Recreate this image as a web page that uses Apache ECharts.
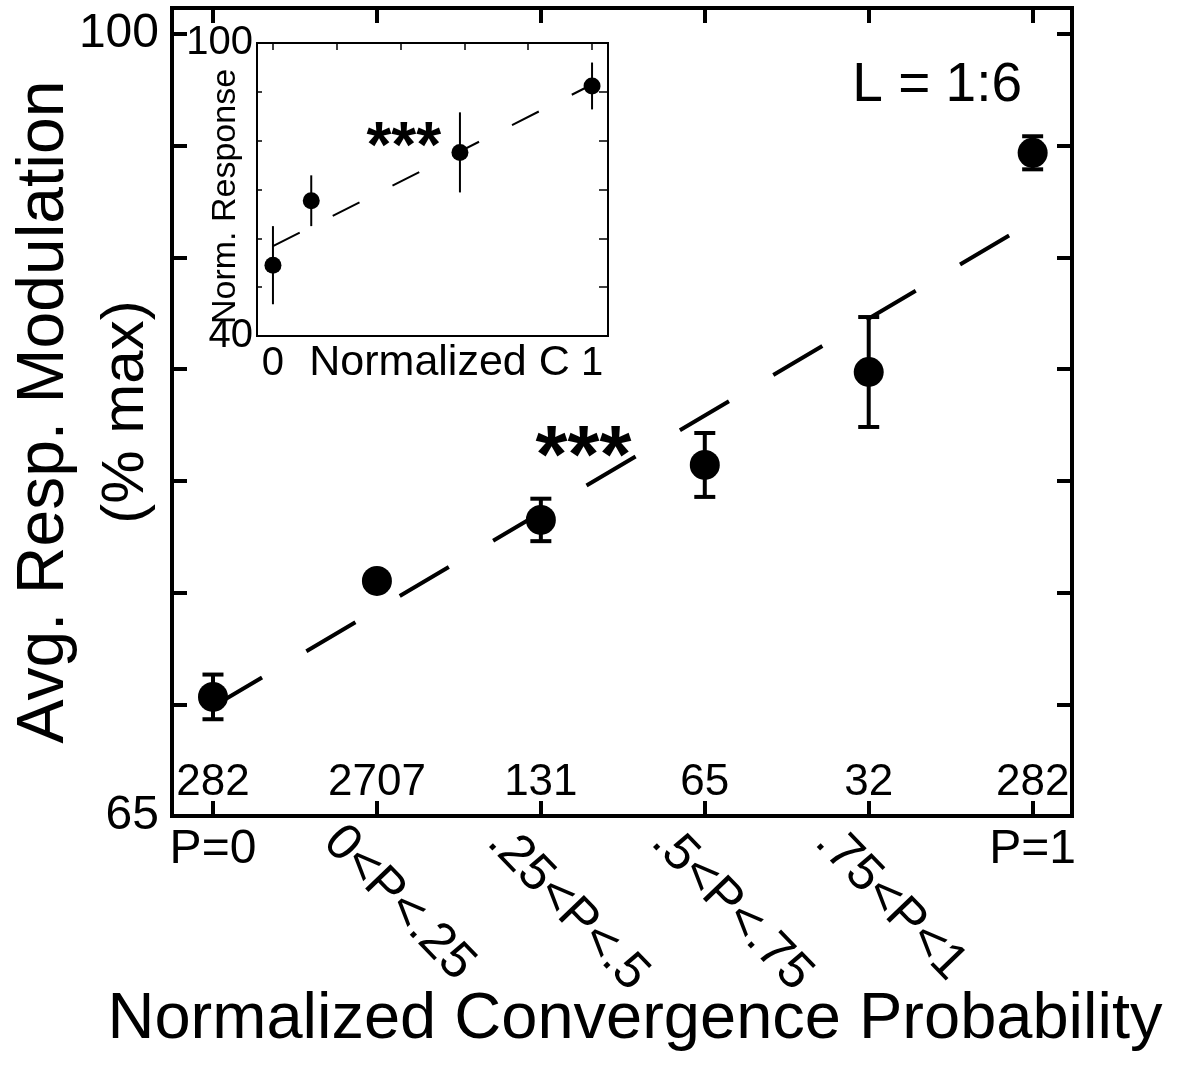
<!DOCTYPE html>
<html><head><meta charset="utf-8">
<script src="https://cdn.jsdelivr.net/npm/echarts@6/dist/echarts.min.js"></script>
<style>html,body{margin:0;padding:0;background:#fff}#c{width:1178px;height:1066px}</style>
</head><body><div id="c"></div>
<script>
// ---- data ----
const categories = ['P=0', '0<P<.25', '.25<P<.5', '.5<P<.75', '.75<P<1', 'P=1'];
const counts = ['282', '2707', '131', '65', '32', '282'];
const meanResp = [70.33, 75.52, 78.25, 80.71, 84.87, 94.68];
const semResp = [1.0, 0.0, 0.95, 1.43, 2.46, 0.74];
const fitX = [0, 5];
const fitY = [69.9, 91.6];
const yTicks = [65, 70, 75, 80, 85, 90, 95, 100];
const yTickLabels = [65, 100];
const xTicks = [0, 1, 2, 3, 4, 5];
const xFlatLabels = [0, 5];
const xRotLabels = [1, 2, 3, 4];
const insetC = [0, 0.12, 0.586, 1];
const insetMean = [54.5, 67.7, 77.6, 91.2];
const insetErr = [8.0, 5.2, 8.2, 4.8];
const insetFitX = [0, 1];
const insetFitY = [58.4, 91.5];
const insetXTicks = [0, 0.2, 0.4, 0.6, 0.8, 1];
const insetXLabels = [0, 1];
const insetYLabels = [40, 100];
const sigMain = [[2.26, 80.98]];
const sigInset = [[0.41, 78.2]];

const FONT = 'Liberation Sans, Arial, Helvetica, sans-serif';
const BLACK = '#000';
const XMIN = -0.25, XMAX = 5.24, YMIN = 65, YMAX = 101.16;

function errItem(capHalf, lw) {
  return function (params, api) {
    const x = api.value(0);
    const lo = api.coord([x, api.value(1)]);
    const hi = api.coord([x, api.value(2)]);
    const st = { stroke: BLACK, lineWidth: lw };
    const ch = [{ type: 'line', shape: { x1: lo[0], y1: lo[1], x2: hi[0], y2: hi[1] }, style: st }];
    if (capHalf > 0) {
      ch.push({ type: 'line', shape: { x1: lo[0] - capHalf, y1: lo[1], x2: lo[0] + capHalf, y2: lo[1] }, style: st });
      ch.push({ type: 'line', shape: { x1: hi[0] - capHalf, y1: hi[1], x2: hi[0] + capHalf, y2: hi[1] }, style: st });
    }
    return { type: 'group', children: ch };
  };
}

const hiddenLine = { show: false, onZero: false };
const noSplit = { show: false };
const gridBase = { containLabel: false, outerBoundsMode: 'none' };

const option = {
  animation: false,
  backgroundColor: '#fff',
  textStyle: { fontFamily: FONT, color: BLACK },
  title: {
    text: 'L = 1:6', right: 156, top: 58, padding: 0,
    textStyle: { fontSize: 55, fontWeight: 'normal', color: BLACK, fontFamily: FONT }
  },
  grid: [
    Object.assign({ left: 172, right: 106, top: 8, bottom: 250, show: true, borderColor: BLACK, borderWidth: 4, backgroundColor: 'transparent' }, gridBase),
    Object.assign({ left: 127, right: 151, top: 8, bottom: 250, show: false }, gridBase),
    Object.assign({ left: 172, right: 106, top: 8, bottom: 250, show: false }, gridBase),
    Object.assign({ left: 257, right: 570, top: 43, bottom: 730, show: true, borderColor: BLACK, borderWidth: 2, backgroundColor: '#fff' }, gridBase)
  ],
  xAxis: [
    { // 0 main bottom
      type: 'value', gridIndex: 0, position: 'bottom', min: XMIN, max: XMAX,
      axisLine: hiddenLine, splitLine: noSplit,
      axisTick: { show: true, inside: true, length: 15, customValues: xTicks, lineStyle: { color: BLACK, width: 4 } },
      axisLabel: { customValues: xFlatLabels, formatter: v => categories[Math.round(v)], fontSize: 48, margin: 10, color: BLACK, fontFamily: FONT },
      name: 'Normalized Convergence Probability', nameLocation: 'middle', nameGap: 172, nameMoveOverlap: false,
      nameTextStyle: { fontSize: 65, color: BLACK, fontFamily: FONT, padding: [0, 0, 0, 26] }
    },
    { // 1 main top (mirror ticks)
      type: 'value', gridIndex: 0, position: 'top', min: XMIN, max: XMAX,
      axisLine: hiddenLine, splitLine: noSplit,
      axisTick: { show: true, inside: true, length: 15, customValues: xTicks, lineStyle: { color: BLACK, width: 4 } },
      axisLabel: { show: false }
    },
    { // 2 rotated category labels
      type: 'value', gridIndex: 1, position: 'bottom', min: XMIN, max: XMAX,
      axisLine: hiddenLine, axisTick: { show: false }, splitLine: noSplit,
      axisLabel: { customValues: xRotLabels, formatter: v => categories[Math.round(v)], rotate: -46, margin: 18, fontSize: 51, color: BLACK, fontFamily: FONT, hideOverlap: false }
    },
    { // 3 counts inside
      type: 'value', gridIndex: 2, position: 'bottom', min: XMIN, max: XMAX,
      axisLine: hiddenLine, axisTick: { show: false }, splitLine: noSplit,
      axisLabel: { inside: true, customValues: xTicks, formatter: v => counts[Math.round(v)], margin: 11, fontSize: 44, color: BLACK, fontFamily: FONT }
    },
    { // 4 inset bottom
      type: 'value', gridIndex: 3, position: 'bottom', min: -0.05, max: 1.05,
      axisLine: hiddenLine, axisTick: { show: false }, splitLine: noSplit,
      axisLabel: { customValues: insetXLabels, formatter: v => String(v), margin: 8, fontSize: 40, color: BLACK, fontFamily: FONT },
      name: 'Normalized C', nameLocation: 'middle', nameGap: 6, nameMoveOverlap: false,
      nameTextStyle: { fontSize: 43, color: BLACK, fontFamily: FONT, padding: [0, 0, 0, 14] }
    },
    { // 5 inset top
      type: 'value', gridIndex: 3, position: 'top', min: -0.05, max: 1.05,
      axisLine: hiddenLine, splitLine: noSplit,
      axisTick: { show: true, inside: true, length: 7, customValues: insetXTicks, lineStyle: { color: BLACK, width: 1.5 } },
      axisLabel: { show: false }
    }
  ],
  yAxis: [
    { // 0 main left
      type: 'value', gridIndex: 0, position: 'left', min: YMIN, max: YMAX,
      axisLine: hiddenLine, splitLine: noSplit,
      axisTick: { show: true, inside: true, length: 15, customValues: yTicks, lineStyle: { color: BLACK, width: 4 } },
      axisLabel: { customValues: yTickLabels, fontSize: 48, margin: 13, color: BLACK, fontFamily: FONT },
      name: '{a|Avg. Resp. Modulation}\n{b|(% max)}', nameLocation: 'middle', nameRotate: 90, nameGap: 11, nameMoveOverlap: false,
      nameTextStyle: {
        color: BLACK, fontFamily: FONT,
        rich: {
          a: { fontSize: 66, lineHeight: 92, fontFamily: FONT, color: BLACK },
          b: { fontSize: 60, lineHeight: 70, fontFamily: FONT, color: BLACK }
        }
      }
    },
    { // 1 main right
      type: 'value', gridIndex: 0, position: 'right', min: YMIN, max: YMAX,
      axisLine: hiddenLine, splitLine: noSplit,
      axisTick: { show: true, inside: true, length: 15, customValues: yTicks, lineStyle: { color: BLACK, width: 4 } },
      axisLabel: { show: false }
    },
    { type: 'value', gridIndex: 1, show: false, min: 0, max: 1, axisLine: hiddenLine },
    { type: 'value', gridIndex: 2, show: false, min: 0, max: 1, axisLine: hiddenLine },
    { // 4 inset left
      type: 'value', gridIndex: 3, position: 'left', min: 40, max: 100, interval: 10,
      axisLine: hiddenLine, splitLine: noSplit,
      axisTick: { show: true, inside: true, length: 5, lineStyle: { color: BLACK, width: 1.5 } },
      axisLabel: { customValues: insetYLabels, fontSize: 40, margin: 4, color: BLACK, fontFamily: FONT },
      name: 'Norm. Response', nameLocation: 'middle', nameRotate: 90, nameGap: 14, nameMoveOverlap: false,
      nameTextStyle: { fontSize: 34, color: BLACK, fontFamily: FONT, padding: [0, 14, 0, 0] }
    },
    { // 5 inset right
      type: 'value', gridIndex: 3, position: 'right', min: 40, max: 100, interval: 10,
      axisLine: hiddenLine, splitLine: noSplit,
      axisTick: { show: true, inside: true, length: 9, lineStyle: { color: BLACK, width: 1.5 } },
      axisLabel: { show: false }
    }
  ],
  series: [
    {
      name: 'fit', type: 'line', xAxisIndex: 0, yAxisIndex: 0, silent: true, z: 2,
      data: fitX.map((x, i) => [x, fitY[i]]), symbol: 'none',
      lineStyle: { color: BLACK, width: 4, type: [57, 51.5], opacity: 1 }
    },
    {
      name: 'err', type: 'custom', xAxisIndex: 0, yAxisIndex: 0, z: 3, silent: true,
      data: meanResp.map((m, i) => [i, m - semResp[i], m + semResp[i]]),
      encode: { x: 0, y: [1, 2] },
      renderItem: errItem(10.5, 4)
    },
    {
      name: 'mean', type: 'scatter', xAxisIndex: 0, yAxisIndex: 0, z: 4,
      data: meanResp.map((m, i) => [i, m]), symbol: 'circle', symbolSize: 30,
      itemStyle: { color: BLACK, opacity: 1 }
    },
    {
      name: 'sig', type: 'scatter', xAxisIndex: 0, yAxisIndex: 0, z: 5, silent: true,
      data: sigMain, symbolSize: 1, itemStyle: { color: 'transparent', opacity: 1 },
      label: { show: true, position: 'inside', formatter: '***', fontSize: 82, fontWeight: 'bold', color: BLACK, opacity: 1, fontFamily: FONT }
    },
    {
      name: 'insetFit', type: 'line', xAxisIndex: 4, yAxisIndex: 4, silent: true, z: 6,
      data: insetFitX.map((x, i) => [x, insetFitY[i]]), symbol: 'none',
      lineStyle: { color: BLACK, width: 2, type: [30, 37], opacity: 1 }
    },
    {
      name: 'insetErr', type: 'custom', xAxisIndex: 4, yAxisIndex: 4, z: 7, silent: true,
      data: insetMean.map((m, i) => [insetC[i], m - insetErr[i], m + insetErr[i]]),
      encode: { x: 0, y: [1, 2] },
      renderItem: errItem(0, 2)
    },
    {
      name: 'insetMean', type: 'scatter', xAxisIndex: 4, yAxisIndex: 4, z: 8,
      data: insetMean.map((m, i) => [insetC[i], m]), symbol: 'circle', symbolSize: 17,
      itemStyle: { color: BLACK, opacity: 1 }
    },
    {
      name: 'insetSig', type: 'scatter', xAxisIndex: 4, yAxisIndex: 4, z: 9, silent: true,
      data: sigInset, symbolSize: 1, itemStyle: { color: 'transparent', opacity: 1 },
      label: { show: true, position: 'inside', formatter: '***', fontSize: 64, fontWeight: 'bold', color: BLACK, opacity: 1, fontFamily: FONT }
    }
  ]
};

const chart = echarts.init(document.getElementById('c'), null, { renderer: 'canvas' });
chart.setOption(option);
</script>
</body></html>
